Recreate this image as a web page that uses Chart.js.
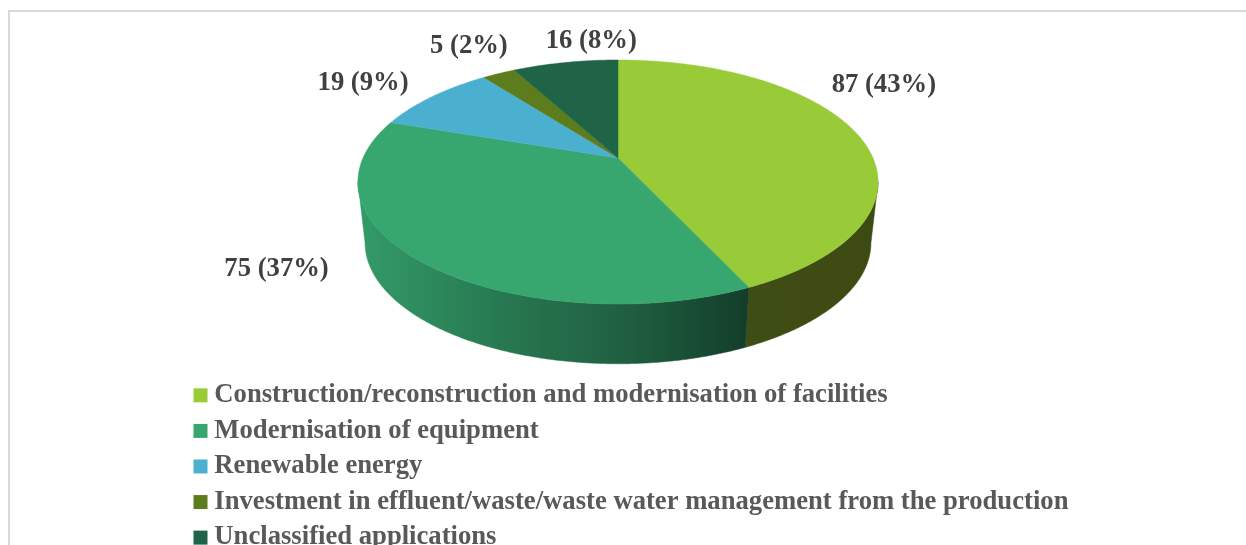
<!DOCTYPE html>
<html>
<head>
<meta charset="utf-8">
<script src="https://cdn.jsdelivr.net/npm/chart.js@4/dist/chart.umd.js"></script>
<style>
html,body{margin:0;padding:0;background:#fff;width:1246px;height:545px;overflow:hidden}
#frame{position:absolute;left:8px;top:10px;right:0;bottom:0;border-left:2px solid #D9D9D9;border-top:2px solid #D9D9D9}
canvas{position:absolute;left:0;top:0}
</style>
</head>
<body>
<div id="frame"></div>
<canvas id="c" width="1246" height="545"></canvas>
<script>
const categories = [
  'Construction/reconstruction and modernisation of facilities',
  'Modernisation of equipment',
  'Renewable energy',
  'Investment in effluent/waste/waste water management from the production',
  'Unclassified applications'
];
const seriesValues = [87, 75, 19, 5, 16];
const sliceColors = ['#99CB38', '#37A76F', '#4BB0D0', '#5C7C1E', '#1F6447'];
const wallStops = [
  [[0, '#3F4E15'], [1, '#3D4A12']],
  [[0, '#339B67'], [0.35, '#287A52'], [0.7, '#1F5E40'], [1, '#133D2A']],
  [[0, '#2A6B80'], [1, '#2A6B80']],
  [[0, '#3A4E12'], [1, '#3A4E12']],
  [[0, '#133D2A'], [1, '#133D2A']]
];
const labelNudge = [[27, -49], [-142, 9], [-69, -14], [-30, -27], [26, -21]];

const TEXT_FAMILY = '"Liberation Serif", "Times New Roman", serif';
const TILT = 117.3 / 255;      // vertical squash of the disc
const PERSP = -0.1967;         // perspective strength
const WALL_SHRINK = 248 / 255; // lower rim is further away
const WALL_DROP = 61;          // depth of the disc
const WALL_TILT = 116.3 / 255;

function rim(arc, theta, lower) {
  const r = arc.outerRadius;
  const u = Math.cos(theta), v = Math.sin(theta);
  const w = 1 + PERSP * v;
  if (lower) {
    return [arc.x + r * WALL_SHRINK * u / w, arc.y + WALL_DROP + r * WALL_TILT * v / w];
  }
  return [arc.x + r * u / w, arc.y + r * TILT * v / w];
}
function pathAngles(a0, a1) {
  const out = [];
  const n = Math.max(2, Math.ceil(Math.abs(a1 - a0) / (Math.PI / 360)));
  for (let i = 0; i <= n; i++) out.push(a0 + (a1 - a0) * i / n);
  return out;
}

const disc3d = {
  id: 'disc3d',
  afterLayout(chart) {
    // disc geometry: circle handed to the doughnut controller, legend under it
    const cx = 618, cy = 158, R = 255;
    chart.chartArea = {left: cx - R, right: cx + R, top: cy - R, bottom: cy + R, width: 2 * R, height: 2 * R};
    const lg = chart.legend;
    const pad = lg.options.labels.padding;
    lg.left = 200 - pad;
    lg.top = 382 - pad;
    lg.right = 1240;
    lg.bottom = 600;
    lg.width = lg.right - lg.left;
    lg.height = lg.bottom - lg.top;
  },
  beforeDatasetDraw(chart, args) {
    const {ctx} = chart;
    const arcs = args.meta.data;
    const thR = Math.asin(-PERSP), thL = Math.PI - thR;
    // side wall
    arcs.forEach((arc, i) => {
      const a0 = Math.max(arc.startAngle, thR), a1 = Math.min(arc.endAngle, thL);
      if (a1 <= a0) return;
      const top = pathAngles(a0, a1).map(t => rim(arc, t, false));
      const low = pathAngles(a1, a0).map(t => rim(arc, t, true));
      const xs = top.concat(low).map(p => p[0]);
      const g = ctx.createLinearGradient(Math.min(...xs), 0, Math.max(...xs), 0);
      wallStops[i].forEach(s => g.addColorStop(s[0], s[1]));
      ctx.beginPath();
      top.concat(low).forEach((p, k) => k ? ctx.lineTo(p[0], p[1]) : ctx.moveTo(p[0], p[1]));
      ctx.closePath();
      ctx.fillStyle = g;
      ctx.strokeStyle = g;
      ctx.lineWidth = 0.5;
      ctx.fill();
      ctx.stroke();
    });
    // top face
    arcs.forEach((arc, i) => {
      ctx.beginPath();
      ctx.moveTo(arc.x, arc.y);
      pathAngles(arc.startAngle, arc.endAngle).forEach(t => {
        const p = rim(arc, t, false);
        ctx.lineTo(p[0], p[1]);
      });
      ctx.closePath();
      ctx.fillStyle = arc.options.backgroundColor;
      ctx.strokeStyle = arc.options.backgroundColor;
      ctx.lineWidth = 0.5;
      ctx.fill();
      ctx.stroke();
    });
    return false;
  },
  afterDatasetsDraw(chart) {
    const {ctx} = chart;
    const arcs = chart.getDatasetMeta(0).data;
    const vals = chart.data.datasets[0].data;
    const total = vals.reduce((a, b) => a + b, 0);
    ctx.save();
    ctx.font = 'bold 26.67px ' + TEXT_FAMILY;
    ctx.fillStyle = '#404040';
    ctx.textAlign = 'center';
    ctx.textBaseline = 'middle';
    arcs.forEach((arc, i) => {
      const p = rim(arc, (arc.startAngle + arc.endAngle) / 2, false);
      const txt = vals[i] + ' (' + Math.round(vals[i] / total * 100) + '%)';
      ctx.fillText(txt, p[0] + labelNudge[i][0], p[1] + labelNudge[i][1]);
    });
    ctx.restore();
  }
};

new Chart(document.getElementById('c'), {
  type: 'pie',
  data: {
    labels: categories,
    datasets: [{data: seriesValues, backgroundColor: sliceColors, borderWidth: 0}]
  },
  plugins: [disc3d],
  options: {
    responsive: false,
    animation: false,
    events: [],
    plugins: {
      tooltip: {enabled: false},
      legend: {
        position: 'left',
        align: 'start',
        labels: {
          padding: 8.9,
          boxWidth: 1,
          boxHeight: 1,
          color: '#595959',
          font: {family: TEXT_FAMILY, size: 26.67, weight: 'bold'},
          generateLabels(chart) {
            return chart.data.labels.map((text, i) => ({
              text, index: i,
              fillStyle: sliceColors[i],
              strokeStyle: sliceColors[i],
              fontColor: '#595959',
              lineWidth: 13,
              lineJoin: 'miter',
              hidden: false
            }));
          }
        }
      }
    }
  }
});
</script>
</body>
</html>
